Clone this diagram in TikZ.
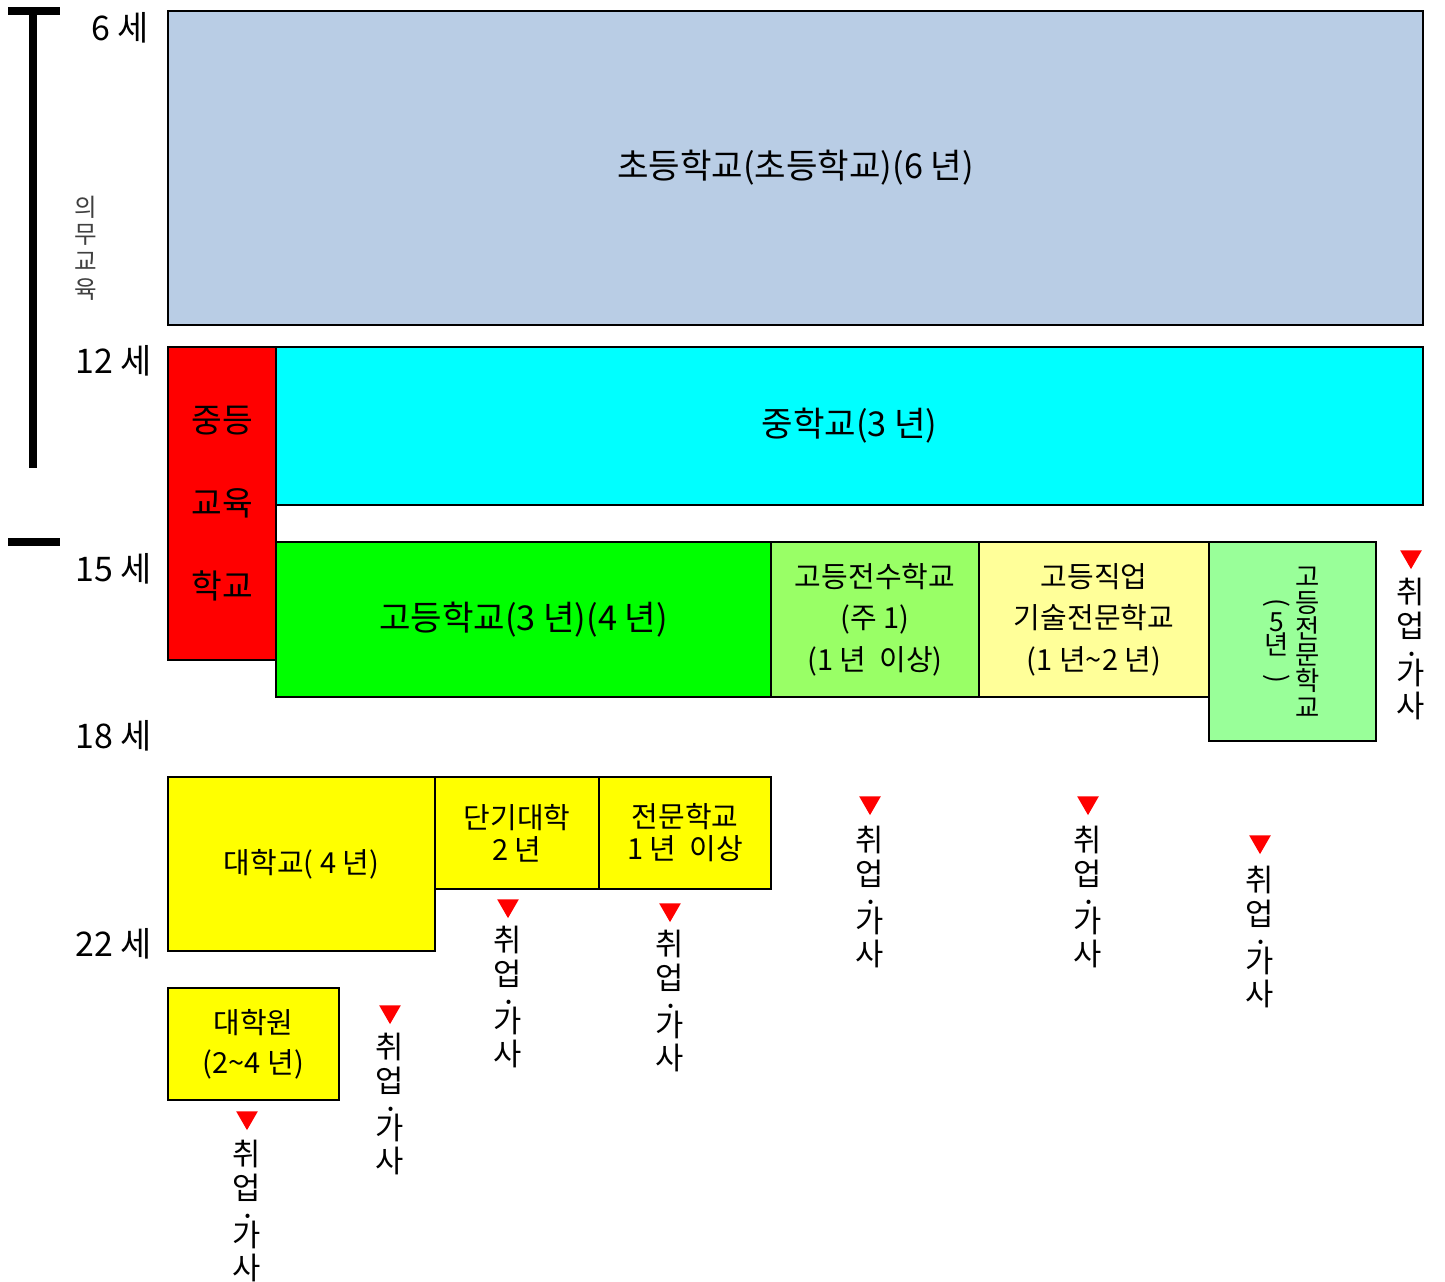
\documentclass[tikz,border=0pt]{standalone}
\usepackage{fontspec}
\usepackage{graphicx}
\setmainfont{Noto Sans CJK KR}
\usetikzlibrary{shapes.geometric,fit}
\definecolor{elem}{HTML}{B9CDE5}
\definecolor{aqua}{HTML}{00FFFF}
\definecolor{hsgreen}{HTML}{00FF00}
\definecolor{lgreen}{HTML}{99FF66}
\definecolor{lyellow}{HTML}{FFFF99}
\definecolor{mint}{HTML}{99FF99}
\definecolor{yel}{HTML}{FFFF00}
\definecolor{mark}{HTML}{FF0000}
\tikzset{
  box/.style={draw=black, line width=1.6pt, inner sep=0pt},
  txt/.style={inner sep=0pt, align=center, anchor=center},
  biglbl/.style={txt, font=\fontsize{19.5}{23}\selectfont},
  midlbl/.style={txt, font=\fontsize{16.5}{23.6}\selectfont},
  smlbl/.style={txt, font=\fontsize{16.5}{18.2}\selectfont},
  tri/.style={regular polygon, regular polygon sides=3, shape border rotate=180,
    fill=mark, draw=none, inner sep=0pt, minimum size=0.5cm, anchor=north},
  jobtxt/.style={align=center, inner sep=0pt, anchor=north,
    font=\fontsize{17.5}{19}\selectfont},
  age/.style={anchor=east, inner sep=0pt, font=\fontsize{19.3}{22}\selectfont},
  bar/.style={line width=4pt},
}
\newcommand\jobstack{취\\업\\[6.5pt]\makebox[0pt][l]{\makebox[1em][c]{\raisebox{0.6em}{·}}}가\\사}
\begin{document}
\begin{tikzpicture}[x=0.02cm, y=-0.02cm]
\useasboundingbox (0,0) rectangle (1445,1282);

% left bars
\draw[bar] (33,11) -- (33,468);
\coordinate (capL) at (8,11);
\coordinate (capR) at (60,11);
\draw[bar] (capL) -- (capR);
\coordinate (sbL) at (8,542);
\coordinate (sbR) at (60,542);
\draw[bar] (sbL) -- (sbR);
\node[txt, text=black!75, font=\fontsize{14}{15.6}\selectfont] (duty) at (86,248) {의\\무\\교\\육};

% ages
\node[age] (a6) at (149,28) {6 세};
\node[age] (a12) at (152,361) {12 세};
\node[age] (a15) at (152,569) {15 세};
\node[age] (a18) at (152,736) {18 세};
\node[age] (a22) at (152,944) {22 세};

% boxes
\node[box, fill=elem, fit={(168,11)(1423,325)}] (elemb) {};
\node[biglbl] (elemt) at (elemb.center) {초등학교(초등학교)(6 년)};
\node[box, fill=mark, fit={(168,347)(276,660)}] (sec) {};
\node[txt, font=\fontsize{19}{47.2}\selectfont] (sect) at (sec.center) {중등\\교육\\학교};
\node[box, fill=aqua, fit={(276,347)(1423,505)}] (mid) {};
\node[biglbl] (midt) at (mid.center) {중학교(3 년)};
\node[box, fill=hsgreen, fit={(276,542)(771,697)}] (high) {};
\node[biglbl] (hight) at (high.center) {고등학교(3 년)(4 년)};
\node[box, fill=lgreen, fit={(771,542)(979,697)}] (senior) {};
\node[midlbl] (seniort) at (senior.center) {고등전수학교\\(주 1)\\(1 년\ \ 이상)};
\node[box, fill=lyellow, fit={(979,542)(1209,697)}] (voc) {};
\node[midlbl] (voct) at (voc.center) {고등직업\\기술전문학교\\(1 년\textasciitilde 2 년)};
\node[box, fill=mint, fit={(1209,542)(1376,741)}] (tech) {};
\node[txt, font=\fontsize{15}{14.9}\selectfont] (techA) at (1308,642) {고\\등\\전\\문\\학\\교};
\node[txt, font=\fontsize{15}{13}\selectfont] (techB) at (1277,641) {\rotatebox{-90}{(}\\[2pt]5\\년\\[-2pt]\rotatebox{-90}{)}};
\node[box, fill=yel, fit={(168,777)(435,951)}] (univ) {};
\node[smlbl] (univt) at (univ.center) {대학교( 4 년)};
\node[box, fill=yel, fit={(435,777)(599,889)}] (jc) {};
\node[smlbl] (jct) at (jc.center) {단기대학\\2 년};
\node[box, fill=yel, fit={(599,777)(771,889)}] (prof) {};
\node[smlbl] (proft) at (prof.center) {전문학교\\1 년\ \ 이상};
\node[box, fill=yel, fit={(168,988)(339,1100)}] (grad) {};
\node[txt, font=\fontsize{16.5}{22.8}\selectfont] (gradt) at (grad.center) {대학원\\(2\textasciitilde 4 년)};

% employment marks
\node[tri] (t1) at (1411,550) {};
\node[jobtxt] (j1) at (1411,578) {\jobstack};
\node[tri] (t2) at (870,796) {};
\node[jobtxt] (j2) at (870,826) {\jobstack};
\node[tri] (t3) at (1088,796) {};
\node[jobtxt] (j3) at (1088,826) {\jobstack};
\node[tri] (t4) at (1260,835) {};
\node[jobtxt] (j4) at (1260,866) {\jobstack};
\node[tri] (t5) at (508,899) {};
\node[jobtxt] (j5) at (508,926) {\jobstack};
\node[tri] (t6) at (670,903) {};
\node[jobtxt] (j6) at (670,930) {\jobstack};
\node[tri] (t7) at (390,1005) {};
\node[jobtxt] (j7) at (390,1033) {\jobstack};
\node[tri] (t8) at (247,1111) {};
\node[jobtxt] (j8) at (247,1140) {\jobstack};
\end{tikzpicture}
\end{document}
